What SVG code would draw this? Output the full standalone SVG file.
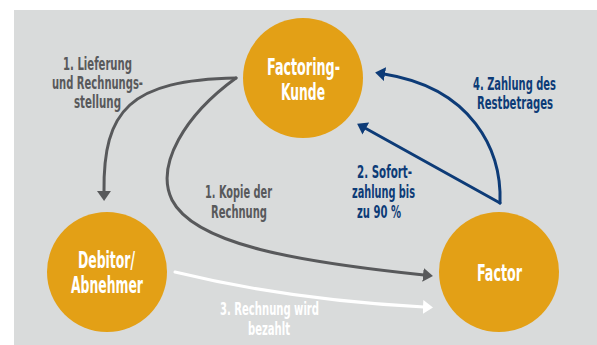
<svg xmlns="http://www.w3.org/2000/svg" width="597" height="345" viewBox="0 0 597 345">
<style>
.node{fill:#e3a016}
.nt{font-family:"DejaVu Sans Condensed","Liberation Sans Narrow","Roboto",sans-serif;font-weight:bold;font-size:22.5px;fill:#ffffff;text-anchor:middle}
.lb{font-family:"DejaVu Sans Condensed","Liberation Sans Narrow","Roboto",sans-serif;font-weight:bold;font-size:17px;text-anchor:middle}
.g{fill:#58595b}
.b{fill:#0d3b77}
.w{fill:#ffffff}
.c{fill:none;stroke-width:3;stroke-linecap:round}
</style>
<defs>
<marker id="ag" viewBox="0 0 10 14" refX="1" refY="7" markerWidth="10" markerHeight="14" markerUnits="userSpaceOnUse" orient="auto"><path d="M0,0 L10,7 L0,14 z" fill="#58595b"/></marker>
<marker id="aw" viewBox="0 0 10 14" refX="1" refY="7" markerWidth="10" markerHeight="14" markerUnits="userSpaceOnUse" orient="auto"><path d="M0,0 L10,7 L0,14 z" fill="#ffffff"/></marker>
<marker id="ab" viewBox="0 0 10 14" refX="1" refY="7" markerWidth="10" markerHeight="14" markerUnits="userSpaceOnUse" orient="auto"><path d="M0,0 L10,7 L0,14 z" fill="#0d3b77"/></marker>
</defs>
<rect x="0" y="0" width="597" height="345" fill="#ffffff"/>
<rect x="14" y="10" width="583" height="335" fill="#d9dbdb"/>
<g id="connectors">
<path class="c" stroke="#58595b" d="M236,78 C130,80 103,110 104,192" marker-end="url(#ag)"/>
<path class="c" stroke="#58595b" d="M236,78 C185,115 155,165 172,200 C195,245 300,262 424,275" marker-end="url(#ag)"/>
<path class="c" stroke="#ffffff" d="M175,272 Q290,300 424,307" marker-end="url(#aw)"/>
<path class="c" stroke="#0d3b77" d="M500,203 L365,128" marker-end="url(#ab)"/>
<path class="c" stroke="#0d3b77" d="M500,203 C502,150 472,88 384,74" marker-end="url(#ab)"/>
</g>
<g id="kunde">
<circle class="node" cx="303" cy="78" r="60"/>
<text class="nt" x="303.5" y="75" textLength="73" lengthAdjust="spacingAndGlyphs">Factoring-</text>
<text class="nt" x="303" y="100" textLength="44" lengthAdjust="spacingAndGlyphs">Kunde</text>
</g>
<g id="debitor">
<circle class="node" cx="107" cy="272" r="60"/>
<text class="nt" x="106.5" y="268" textLength="57" lengthAdjust="spacingAndGlyphs">Debitor/</text>
<text class="nt" x="107" y="293" textLength="72" lengthAdjust="spacingAndGlyphs">Abnehmer</text>
</g>
<g id="factor">
<circle class="node" cx="499" cy="272" r="60"/>
<text class="nt" x="499.5" y="281" textLength="45" lengthAdjust="spacingAndGlyphs">Factor</text>
</g>
<g id="labels">
<text class="lb g" x="97.5" y="70" textLength="69" lengthAdjust="spacingAndGlyphs">1. Lieferung</text>
<text class="lb g" x="97.5" y="89" textLength="91" lengthAdjust="spacingAndGlyphs">und Rechnungs-</text>
<text class="lb g" x="97.5" y="108" textLength="47" lengthAdjust="spacingAndGlyphs">stellung</text>
<text class="lb g" x="238.5" y="198" textLength="67" lengthAdjust="spacingAndGlyphs">1. Kopie der</text>
<text class="lb g" x="239" y="218" textLength="56" lengthAdjust="spacingAndGlyphs">Rechnung</text>
<text class="lb b" x="384.5" y="178" textLength="55" lengthAdjust="spacingAndGlyphs">2. Sofort-</text>
<text class="lb b" x="383.5" y="198" textLength="63" lengthAdjust="spacingAndGlyphs">zahlung bis</text>
<text class="lb b" x="379" y="218" textLength="44" lengthAdjust="spacingAndGlyphs">zu 90 %</text>
<text class="lb b" x="514.5" y="90" textLength="83" lengthAdjust="spacingAndGlyphs">4. Zahlung des</text>
<text class="lb b" x="515" y="109" textLength="76" lengthAdjust="spacingAndGlyphs">Restbetrages</text>
<text class="lb w" x="269.5" y="315" textLength="99" lengthAdjust="spacingAndGlyphs">3. Rechnung wird</text>
<text class="lb w" x="269" y="335" textLength="42" lengthAdjust="spacingAndGlyphs">bezahlt</text>
</g>
</svg>
